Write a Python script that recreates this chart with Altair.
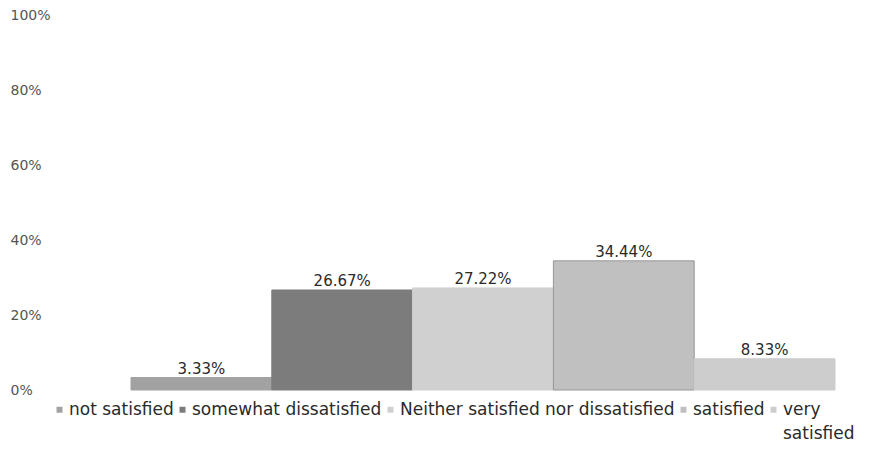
import altair as alt
import pandas as pd

categories = ["not satisfied", "somewhat dissatisfied",
              "Neither satisfied nor dissatisfied", "satisfied", "very satisfied"]
values = [3.33, 26.67, 27.22, 34.44, 8.33]
value_labels = ["3.33%", "26.67%", "27.22%", "34.44%", "8.33%"]
colors = ["#a2a2a2", "#7c7c7c", "#d0d0d0", "#c0c0c0", "#cdcdcd"]
edge_colors = ["#a2a2a2", "#7c7c7c", "#d0d0d0", "#969696", "#cdcdcd"]
y_ticks = [0, 20, 40, 60, 80, 100]

df = pd.DataFrame({"category": categories, "value": values, "label": value_labels})

FONT = "DejaVu Sans"

x = alt.X("category:N", sort=categories, axis=None,
          scale=alt.Scale(paddingInner=0, paddingOuter=0))
y = alt.Y("value:Q", scale=alt.Scale(domain=[0, 100], nice=False),
          axis=alt.Axis(values=y_ticks, labelExpr="datum.value + '%'", title=None,
                        grid=False, domain=False, ticks=False, tickSize=0,
                        labelAlign="left", labelPadding=121, labelFontSize=14,
                        labelColor="#555555"))

# every legend label gets two lines so the rows stay aligned; only the last
# one actually wraps ("very" / "satisfied")
label_expr = ("datum.label == 'very satisfied' ? ['very', 'satisfied'] : [datum.label, '']")

bars = alt.Chart(df).mark_bar(strokeWidth=1).encode(
    x=x, y=y,
    color=alt.Color("category:N", sort=categories,
                    scale=alt.Scale(domain=categories, range=colors),
                    legend=alt.Legend(orient="none", legendX=-80, legendY=386, padding=0,
                                      direction="horizontal", columns=5, title=None,
                                      symbolType="square", symbolSize=36,
                                      symbolStrokeWidth=0, labelFontSize=17,
                                      labelColor="#2a2a2a", labelOffset=1,
                                      columnPadding=0, labelLimit=0,
                                      labelExpr=label_expr)),
    stroke=alt.Stroke("category:N", sort=categories,
                      scale=alt.Scale(domain=categories, range=edge_colors), legend=None),
)

text = alt.Chart(df).mark_text(baseline="alphabetic", dy=-4, fontSize=15, color="#2a2a2a").encode(
    x=x, y=alt.Y("value:Q"), text="label:N"
)

chart = (bars + text).properties(
    width=704, height=375,
    padding={"left": 2, "top": 0, "right": 0, "bottom": 0}
).configure(font=FONT, style={"guide-label": {"lineHeight": 24}}).configure_view(stroke=None)

chart.save("out.html", embed_options={"renderer": "svg", "actions": False})
